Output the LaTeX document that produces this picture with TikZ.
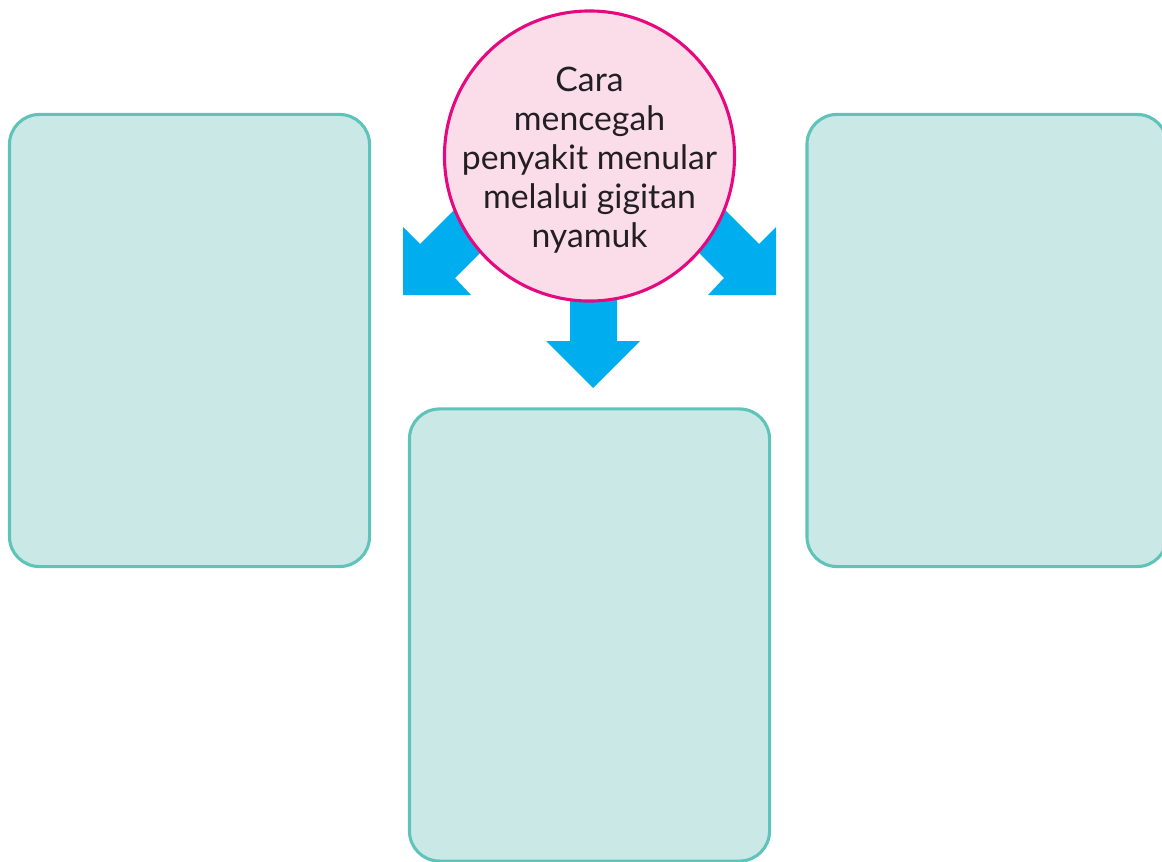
\documentclass[tikz,border=0pt]{standalone}
\usepackage{fontspec}
\setmainfont{Lato}
\usepackage{xcolor}
\usetikzlibrary{calc, positioning}

\definecolor{birupanah}{HTML}{00AEEF}
\definecolor{merahmuda}{HTML}{FBDDE9}
\definecolor{magenta}{HTML}{E6087F}
\definecolor{hijaumuda}{HTML}{C9E8E6}
\definecolor{hijautepi}{HTML}{5EC4B9}
\definecolor{teksgelap}{HTML}{231F20}

\begin{document}
\begin{tikzpicture}[x=0.025cm, y=-0.025cm,
    kotak/.style={draw=hijautepi, fill=hijaumuda, line width=2.2pt, rounded corners=0.75cm,
        minimum width=9.0cm, minimum height=11.3cm},
    topik/.style={circle, draw=magenta, fill=merahmuda, line width=2.2pt, minimum size=7.25cm,
        inner sep=0pt},
    teks/.style={align=center, text=teksgelap, font=\fontsize{24}{27.8}\selectfont},
    panah/.style={fill=birupanah}]
    % 1. Batas gambar
    \useasboundingbox (0,0) rectangle (1162,861);
    \clip (0,0) rectangle (1162,861);

    % 2. Tiga kotak isian
    \node[kotak] (kiri) at (189.5,340.5) {};
    \node[kotak] (kanan) at (987,340.5) {};
    \node[kotak] (bawah) at (589.5,635) {};

    % 3. Panah biru (di belakang lingkaran)
    \fill[panah] (465,199) -- (420,244) -- (403,227) -- (403,295) -- (471,295)
        -- (455,278) -- (500,233) -- cycle;
    \fill[panah] (714,199) -- (759,244) -- (776,227) -- (776,295) -- (708,295)
        -- (724,278) -- (679,233) -- cycle;
    \fill[panah] (570,270) -- (570,341) -- (546,341) -- (593,388) -- (640,341)
        -- (617,341) -- (617,270) -- cycle;

    % 4. Lingkaran judul
    \node[topik] (judul) at (589.5,156) {};
    \node[teks] (judulteks) at ([yshift=-0.1cm]judul.center) {Cara\\mencegah\\penyakit menular\\melalui gigitan\\nyamuk};
\end{tikzpicture}
\end{document}
